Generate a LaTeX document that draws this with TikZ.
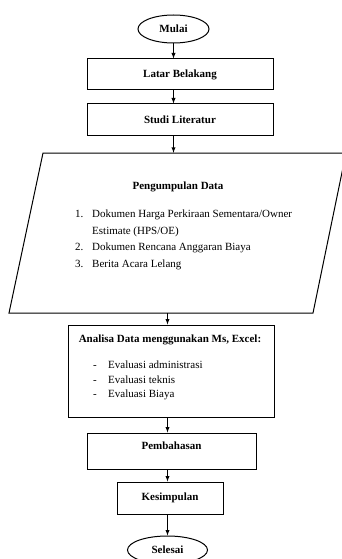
\documentclass[tikz,border=0pt]{standalone}
\usepackage{fontspec}
\setmainfont{Liberation Serif}
\usetikzlibrary{shapes.geometric, arrows}

\begin{document}
\begin{tikzpicture}[x=1pt,y=-1pt,font=\fontsize{11}{13}\selectfont,
  kotak/.style={draw=black, line width=1pt, rectangle, inner sep=0pt, font=\fontsize{11}{13}\selectfont\bfseries},
  oval/.style={draw=black, line width=1pt, ellipse, inner sep=0pt, font=\fontsize{11}{13}\selectfont\bfseries},
  garis/.style={draw=black, line width=1pt, line join=miter},
  panah/.style={line width=0.9pt, -latex},
  isi/.style={anchor=base west, inner sep=0pt}]
\useasboundingbox (0,0) rectangle (342,559);

\node[oval, minimum width=71pt, minimum height=28pt] (mulai) at (173.5,29) {Mulai};
\node[kotak, minimum width=186pt, minimum height=31pt] (latar) at (180,74.5) {Latar Belakang};
\node[kotak, minimum width=186pt, minimum height=31pt] (studi) at (180,119.5) {Studi Literatur};

% jajaran genjang pengumpulan data
\node[minimum width=303pt, minimum height=160pt, inner sep=0pt] (data) at (177.5,233) {};
\draw[garis] (43,153) coordinate (dataKiriAtas) -- (346,153) coordinate (dataKananAtas)
  -- (313,313) coordinate (dataKananBawah) -- (9,313) coordinate (dataKiriBawah) -- cycle;
\node[font=\fontsize{11}{13}\selectfont\bfseries] (judulData) at (178,187) {Pengumpulan Data};
\node[isi] (no1) at (75,217.5) {1.};
\node[isi] (item1) at (92,217.5) {Dokumen Harga Perkiraan Sementara/Owner};
\node[isi] (item1b) at (92,234) {Estimate (HPS/OE)};
\node[isi] (no2) at (75,250.5) {2.};
\node[isi] (item2) at (92,250.5) {Dokumen Rencana Anggaran Biaya};
\node[isi] (no3) at (75,267) {3.};
\node[isi] (item3) at (92,267) {Berita Acara Lelang};

\node[kotak, minimum width=206pt, minimum height=92pt] (analisa) at (171,371) {};
\node[font=\fontsize{11}{13}\selectfont\bfseries] (judulAnalisa) at (170,340) {Analisa Data menggunakan Ms, Excel:};
\node[isi] (strip1) at (93,368.5) {-};
\node[isi] (eval1) at (108,368.5) {Evaluasi administrasi};
\node[isi] (strip2) at (93,383.5) {-};
\node[isi] (eval2) at (108,383.5) {Evaluasi teknis};
\node[isi] (strip3) at (93,397.5) {-};
\node[isi] (eval3) at (108,397.5) {Evaluasi Biaya};

\node[kotak, minimum width=169pt, text height=16pt, text depth=20pt] (bahas) at (171.5,451) {Pembahasan};
\node[kotak, minimum width=106pt, minimum height=32pt] (simpul) at (170,498) {Kesimpulan};
\node[oval, minimum width=80pt, minimum height=28pt] (selesai) at (167.5,550) {Selesai};

\draw[panah] (mulai.south) -- (latar.north -| mulai);
\draw[panah] (latar.south -| mulai) -- (studi.north -| mulai);
\draw[panah] (studi.south -| mulai) -- (data.north -| mulai);
\draw[panah] (data.south -| selesai) -- (analisa.north -| selesai);
\draw[panah] (analisa.south -| selesai) -- (bahas.north -| selesai);
\draw[panah] (bahas.south -| selesai) -- (simpul.north -| selesai);
\draw[panah] (simpul.south -| selesai) -- (selesai.north);
\end{tikzpicture}
\end{document}
